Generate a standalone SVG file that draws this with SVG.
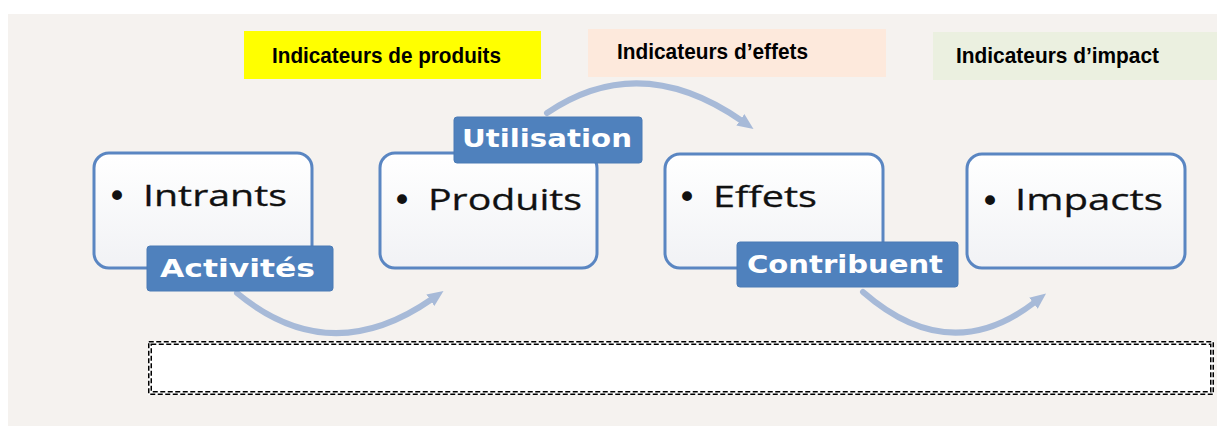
<svg xmlns="http://www.w3.org/2000/svg" width="1217" height="426" viewBox="0 0 1217 426">
  <defs>
    <linearGradient id="boxGrad" x1="0" y1="0" x2="0" y2="1">
      <stop offset="0" stop-color="#ffffff"/>
      <stop offset="1" stop-color="#f1f2f5"/>
    </linearGradient>
    <marker id="ah" markerUnits="userSpaceOnUse" markerWidth="18" markerHeight="18" refX="2" refY="8" orient="auto">
      <path d="M0,1 L16,8 L0,15 z" fill="#a7bad8"/>
    </marker>
    <style>
      .box { fill: url(#boxGrad); stroke: #5a86c2; stroke-width: 3; }
      .btxt { font-family: "Open Sans", "DejaVu Sans", sans-serif; font-size: 30px; fill: #111; stroke: #111; stroke-width: 0.3; }
      .bul { font-family: "DejaVu Sans", sans-serif; font-size: 34px; fill: #111; }
      .lbl { fill: #4f81bd; stroke: #4a7ab5; stroke-width: 1; }
      .ltxt { font-family: "DejaVu Sans", "Open Sans", sans-serif; font-weight: bold; font-size: 25px; fill: #ffffff; }
      .itxt { font-family: "Liberation Sans", Arial, sans-serif; font-weight: bold; font-size: 21.5px; fill: #000; }
      .arc { fill: none; stroke: #a7bad8; stroke-width: 6; stroke-linecap: round; }
      .dash { fill: none; stroke: #000; stroke-width: 1.5; stroke-dasharray: 5 2.5; }
    </style>
  </defs>

  <rect x="8" y="14" width="1209" height="412" fill="#f5f2ef"/>

  <g id="ind-produits">
    <rect x="244" y="31" width="297" height="48" fill="#ffff00"/>
    <text class="itxt" x="272" y="63" textLength="229" lengthAdjust="spacingAndGlyphs">Indicateurs de produits</text>
  </g>
  <g id="ind-effets">
    <rect x="588" y="29" width="298" height="48" fill="#fde9dc"/>
    <text class="itxt" x="617" y="59" textLength="191" lengthAdjust="spacingAndGlyphs">Indicateurs d’effets</text>
  </g>
  <g id="ind-impact">
    <rect x="933" y="32" width="284" height="48" fill="#ebf0e0"/>
    <text class="itxt" x="956" y="63" textLength="203" lengthAdjust="spacingAndGlyphs">Indicateurs d’impact</text>
  </g>

  <g id="intrants">
    <rect class="box" x="94" y="153" width="218" height="115" rx="15"/>
    <text class="bul" x="117" y="208" text-anchor="middle">•</text>
    <text class="btxt" x="143" y="206" textLength="144" lengthAdjust="spacingAndGlyphs">Intrants</text>
  </g>
  <g id="produits">
    <rect class="box" x="380" y="153" width="217" height="115" rx="15"/>
    <text class="bul" x="402" y="212" text-anchor="middle">•</text>
    <text class="btxt" x="428" y="210" textLength="154" lengthAdjust="spacingAndGlyphs">Produits</text>
  </g>
  <g id="effets">
    <rect class="box" x="665" y="154" width="218" height="114" rx="15"/>
    <text class="bul" x="687" y="209" text-anchor="middle">•</text>
    <text class="btxt" x="713" y="207" textLength="104" lengthAdjust="spacingAndGlyphs">Effets</text>
  </g>
  <g id="impacts">
    <rect class="box" x="967" y="154" width="218" height="114" rx="15"/>
    <text class="bul" x="990" y="213" text-anchor="middle">•</text>
    <text class="btxt" x="1015" y="210" textLength="148" lengthAdjust="spacingAndGlyphs">Impacts</text>
  </g>

  <g id="connectors">
    <path class="arc" d="M 237 293 Q 330 370 432 299" marker-end="url(#ah)"/>
    <path class="arc" d="M 547 113 Q 640 50 742 121" marker-end="url(#ah)"/>
    <path class="arc" d="M 863 292 Q 950 368 1035 302" marker-end="url(#ah)"/>
  </g>

  <g id="activites">
    <rect class="lbl" x="147" y="246" width="186" height="45" rx="3"/>
    <text class="ltxt" x="160" y="277" textLength="155" lengthAdjust="spacingAndGlyphs">Activités</text>
  </g>
  <g id="utilisation">
    <rect class="lbl" x="454" y="117" width="188" height="46" rx="3"/>
    <text class="ltxt" x="462" y="147" textLength="170" lengthAdjust="spacingAndGlyphs">Utilisation</text>
  </g>
  <g id="contribuent">
    <rect class="lbl" x="737" y="242" width="221" height="45" rx="3"/>
    <text class="ltxt" x="747" y="273" textLength="196" lengthAdjust="spacingAndGlyphs">Contribuent</text>
  </g>

  <g id="empty-box">
    <rect x="148" y="341" width="1066" height="54" fill="#ffffff"/>
    <rect class="dash" x="148.75" y="341.75" width="1064.5" height="52.5"/>
    <rect class="dash" x="151.25" y="344.25" width="1059.5" height="47.5"/>
  </g>
</svg>
